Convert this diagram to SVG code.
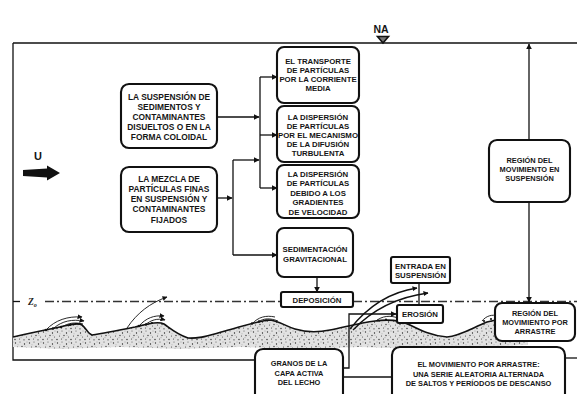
<svg xmlns="http://www.w3.org/2000/svg" width="577" height="394" viewBox="0 0 577 394">
  <defs>
    <marker id="arrow" viewBox="0 0 10 10" refX="9" refY="5" markerWidth="6" markerHeight="6" markerUnits="userSpaceOnUse" orient="auto">
      <path d="M0,0 L10,5 L0,10 Z" fill="#111"/>
    </marker>
    <marker id="arrowSmall" viewBox="0 0 10 10" refX="9" refY="5" markerWidth="5" markerHeight="5" markerUnits="userSpaceOnUse" orient="auto">
      <path d="M0,0 L10,5 L0,10 Z" fill="#111"/>
    </marker>
    <!-- speckled sand texture for the bed -->
    <pattern id="sand" width="14" height="11" patternUnits="userSpaceOnUse">
      <rect width="14" height="11" fill="#e2e2e2"/>
      <circle cx="1.5" cy="2" r="0.65" fill="#333"/>
      <circle cx="6" cy="1" r="0.55" fill="#555"/>
      <circle cx="10.5" cy="3" r="0.65" fill="#222"/>
      <circle cx="3.5" cy="6" r="0.55" fill="#444"/>
      <circle cx="8" cy="5.5" r="0.65" fill="#333"/>
      <circle cx="12.5" cy="7" r="0.55" fill="#555"/>
      <circle cx="1" cy="9.5" r="0.65" fill="#222"/>
      <circle cx="5.5" cy="9" r="0.55" fill="#444"/>
      <circle cx="10" cy="9.8" r="0.65" fill="#333"/>
      <circle cx="13" cy="1" r="0.45" fill="#666"/>
      <circle cx="7" cy="7.8" r="0.45" fill="#666"/>
      <circle cx="4" cy="3.8" r="0.4" fill="#666"/>
      <circle cx="11" cy="5.2" r="0.4" fill="#555"/>
    </pattern>
  </defs>
  <style>
    .box { fill: #fff; stroke: #111; stroke-width: 2.1; }
    .line { fill: none; stroke: #111; stroke-width: 1.3; }
    .t { font-family: "Liberation Sans", Arial, sans-serif; font-weight: bold; fill: #151515; text-anchor: middle; }
    .t85 { font-size: 8.4px; }
    .t8 { font-size: 7.8px; }
    .t75 { font-size: 7.4px; }
    .dashdot { fill: none; stroke: #333; stroke-width: 1.4; stroke-dasharray: 9 3 2 3; }
    .hop { fill: none; stroke: #111; stroke-width: 0.9; }
  </style>

  <rect width="577" height="394" fill="#fff"/>

  <!-- channel frame and water surface -->
  <g id="frame">
    <path class="line" d="M13,43 L577,43" stroke-width="1.6"/>
    <path class="line" d="M13,43 L13,360 L256,360" stroke-width="1.6"/>
  </g>

  <!-- water level mark -->
  <g id="water-level">
    <text class="t" x="381" y="33" font-size="10.5px">NA</text>
    <path d="M377.5,36.5 L388.5,36.5 L383,43 Z" fill="#777" stroke="#111" stroke-width="1.6"/>
  </g>

  <!-- flow velocity -->
  <g id="velocity">
    <text class="t" x="38" y="160" font-size="11px">U</text>
    <path d="M23,170 L47,168.5 L47,165.5 L60,173 L47,180.5 L47,177.5 L23,176 Z" fill="#111"/>
  </g>

  <!-- sediment bed -->
  <g id="bed">
    <path d="M13,337 C30,333 45,330 60,327 C70,325 78,322 82,325 C86,328 88,334 92,335 C105,333 120,330 135,327 C148,324 158,321 164,324 C170,328 176,334 188,338 C200,339 210,335 225,331 C240,327 255,322 268,320 C278,320 285,326 295,329 C305,332 315,333 330,330 C345,327 360,323 375,321 C390,319 400,320 410,325 C420,330 432,336 447,337 C460,336 472,328 487,322 L505,318 L528,330 L528,345 L480,347 L420,349 L360,347 L300,349 L240,347 L180,349 L120,347 L60,349 L13,347 Z" fill="url(#sand)"/>
    <path d="M13,337 C30,333 45,330 60,327 C70,325 78,322 82,325 C86,328 88,334 92,335 C105,333 120,330 135,327 C148,324 158,321 164,324 C170,328 176,334 188,338 C200,339 210,335 225,331 C240,327 255,322 268,320 C278,320 285,326 295,329 C305,332 315,333 330,330 C345,327 360,323 375,321 C390,319 400,320 410,325 C420,330 432,336 447,337 C460,336 472,328 487,322 L505,318" fill="none" stroke="#111" stroke-width="1.6"/>
    <!-- grains hopping over the crests -->
    <g class="hop">
      <path d="M46,330 C55,320 68,316 82,317" marker-end="url(#arrowSmall)"/>
      <path d="M54,328 C62,321 72,319 84,321" marker-end="url(#arrowSmall)"/>
      <path d="M62,327 C68,323 75,322 83,324"/>
      <path d="M139,326 C146,318 154,315 164,316" marker-end="url(#arrowSmall)"/>
      <path d="M145,325 C151,320 157,318 165,320" marker-end="url(#arrowSmall)"/>
      <path d="M127,328 C137,313 150,303 167,297" marker-end="url(#arrowSmall)"/>
      <path d="M252,324 C258,317 266,315 275,317"/>
      <path d="M258,322 C264,318 270,318 278,321"/>
      <path d="M376,321 C382,316 390,315 398,318"/>
      <path d="M482,321 C486,316 492,314 498,316"/>
    </g>
    <g fill="#111">
      <circle cx="46" cy="330" r="1.3"/><circle cx="53" cy="328.5" r="1.2"/><circle cx="61" cy="327" r="1.2"/><circle cx="70" cy="325" r="1.1"/>
      <circle cx="139" cy="326" r="1.3"/><circle cx="146" cy="324.5" r="1.2"/><circle cx="152" cy="323" r="1.1"/>
      <circle cx="252" cy="323.5" r="1.2"/><circle cx="259" cy="321.5" r="1.2"/><circle cx="266" cy="320.5" r="1.1"/>
      <circle cx="378" cy="320.5" r="1.1"/><circle cx="386" cy="319.5" r="1.1"/>
      <circle cx="484" cy="321" r="1.1"/><circle cx="491" cy="319" r="1.1"/>
    </g>
  </g>

  <!-- reference level Z0 -->
  <g id="z0-level">
    <path class="line" d="M13,301.5 L20,301.5" stroke-width="1.4"/>
    <text x="28" y="305" font-family="Liberation Serif, serif" font-style="italic" font-weight="bold" font-size="9.5px" fill="#222">Z<tspan font-size="6px" dy="2">o</tspan></text>
    <path class="dashdot" d="M45,301.5 L281,301.5"/>
    <path class="dashdot" d="M353,301.5 L577,301.5"/>
  </g>

  <!-- connectors -->
  <g id="connectors">
    <path class="line" d="M217,117 L259,117" marker-end="url(#arrow)"/>
    <path class="line" d="M260,77 L260,188"/>
    <path class="line" d="M260,77 L277,77" marker-end="url(#arrow)"/>
    <path class="line" d="M260,135 L277,135" marker-end="url(#arrow)"/>
    <path class="line" d="M260,188 L277,188" marker-end="url(#arrow)"/>
    <path class="line" d="M217,198 L232,198" marker-end="url(#arrow)"/>
    <path class="line" d="M233,160 L233,255"/>
    <path class="line" d="M233,160 L259,160" marker-end="url(#arrow)"/>
    <path class="line" d="M233,255 L277,255" marker-end="url(#arrow)"/>
    <path class="line" d="M317,277 L317,292" marker-end="url(#arrow)"/>
    <path class="line" d="M529,140 L529,44" marker-end="url(#arrow)"/>
    <path class="line" d="M529,202 L529,302" marker-end="url(#arrow)"/>
    <path class="line" d="M419,283 L419,305"/>
    <path class="line" d="M343,368 L349,368 L349,314 L396,314" marker-end="url(#arrow)"/>
    <path class="line" d="M343,377 L392,377"/>
    <path class="line" d="M565,358 L577,358"/>
    <path class="line" d="M350,329 C368,306 390,292 417,288" marker-end="url(#arrowSmall)" stroke-width="1"/>
    <path class="line" d="M353,330 C372,310 398,297 428,293" marker-end="url(#arrowSmall)" stroke-width="1"/>
  </g>

  <g id="node-suspension">
    <rect class="box" x="121" y="84" width="96" height="64" rx="8"/>
    <text class="t t85" x="169" y="99.5">LA SUSPENSIÓN DE</text>
    <text class="t t85" x="169" y="109.5">SEDIMENTOS Y</text>
    <text class="t t85" x="169" y="119.5">CONTAMINANTES</text>
    <text class="t t85" x="169" y="129.5">DISUELTOS O EN LA</text>
    <text class="t t85" x="169" y="139.5">FORMA COLOIDAL</text>
  </g>

  <g id="node-mezcla">
    <rect class="box" x="121" y="167" width="96" height="65" rx="8"/>
    <text class="t t85" x="169" y="181.5">LA MEZCLA DE</text>
    <text class="t t85" x="169" y="191.8">PARTÍCULAS FINAS</text>
    <text class="t t85" x="169" y="202.1">EN SUSPENSIÓN Y</text>
    <text class="t t85" x="169" y="212.4">CONTAMINANTES</text>
    <text class="t t85" x="169" y="222.7">FIJADOS</text>
  </g>

  <g id="node-transporte">
    <rect class="box" x="277" y="47" width="82" height="56" rx="7"/>
    <text class="t t8" x="318" y="64">EL TRANSPORTE</text>
    <text class="t t8" x="318" y="73">DE PARTÍCULAS</text>
    <text class="t t8" x="318" y="82">POR LA CORRIENTE</text>
    <text class="t t8" x="318" y="91">MEDIA</text>
  </g>

  <g id="node-turbulenta">
    <rect class="box" x="277" y="106" width="82" height="56" rx="7"/>
    <text class="t t8" x="318" y="120">LA DISPERSIÓN</text>
    <text class="t t8" x="318" y="129">DE PARTÍCULAS</text>
    <text class="t t8" x="318" y="138" textLength="80" lengthAdjust="spacingAndGlyphs">POR EL MECANISMO</text>
    <text class="t t8" x="318" y="147">DE LA DIFUSIÓN</text>
    <text class="t t8" x="318" y="156">TURBULENTA</text>
  </g>

  <g id="node-gradientes">
    <rect class="box" x="277" y="165" width="82" height="53" rx="7"/>
    <text class="t t8" x="318" y="176.5">LA DISPERSIÓN</text>
    <text class="t t8" x="318" y="186">DE PARTÍCULAS</text>
    <text class="t t8" x="318" y="195.5">DEBIDO A LOS</text>
    <text class="t t8" x="318" y="205">GRADIENTES</text>
    <text class="t t8" x="318" y="214.5">DE VELOCIDAD</text>
  </g>

  <g id="node-sedimentacion">
    <rect class="box" x="277" y="228" width="76" height="49" rx="7"/>
    <text class="t t8" x="315" y="251.5">SEDIMENTACIÓN</text>
    <text class="t t8" x="315" y="261.5">GRAVITACIONAL</text>
  </g>

  <g id="node-deposicion">
    <rect class="box" x="281" y="292" width="72" height="15" rx="2"/>
    <text class="t t8" x="317" y="302.8">DEPOSICIÓN</text>
  </g>

  <g id="node-entrada">
    <rect class="box" x="391" y="257" width="59" height="26" rx="2"/>
    <text class="t t8" x="420.5" y="268.5">ENTRADA EN</text>
    <text class="t t8" x="420.5" y="278">SUSPENSIÓN</text>
  </g>

  <g id="node-erosion">
    <rect class="box" x="397" y="305" width="46" height="18" rx="2"/>
    <text class="t t8" x="420" y="317">EROSIÓN</text>
  </g>

  <g id="node-region-suspension">
    <rect class="box" x="489" y="140" width="81" height="62" rx="8"/>
    <text class="t t75" x="529.5" y="163">REGIÓN DEL</text>
    <text class="t t75" x="529.5" y="172">MOVIMIENTO EN</text>
    <text class="t t75" x="529.5" y="181">SUSPENSIÓN</text>
  </g>

  <g id="node-region-arrastre">
    <rect class="box" x="495" y="303" width="80" height="38" rx="7"/>
    <text class="t t75" x="535" y="316">REGIÓN DEL</text>
    <text class="t t75" x="535" y="325">MOVIMIENTO POR</text>
    <text class="t t75" x="535" y="334">ARRASTRE</text>
  </g>

  <g id="node-granos">
    <rect class="box" x="255" y="349" width="88" height="56" rx="8"/>
    <text class="t t75" x="299" y="366">GRANOS DE LA</text>
    <text class="t t75" x="299" y="375.5">CAPA ACTIVA</text>
    <text class="t t75" x="299" y="385">DEL LECHO</text>
  </g>

  <g id="node-movimiento-arrastre">
    <rect class="box" x="392" y="347" width="173" height="58" rx="8"/>
    <text class="t t75" x="478.5" y="367">EL MOVIMIENTO POR ARRASTRE:</text>
    <text class="t t75" x="478.5" y="376.5">UNA SERIE ALEATORIA ALTERNADA</text>
    <text class="t t75" x="478.5" y="386">DE SALTOS Y PERÍODOS DE DESCANSO</text>
  </g>
</svg>
